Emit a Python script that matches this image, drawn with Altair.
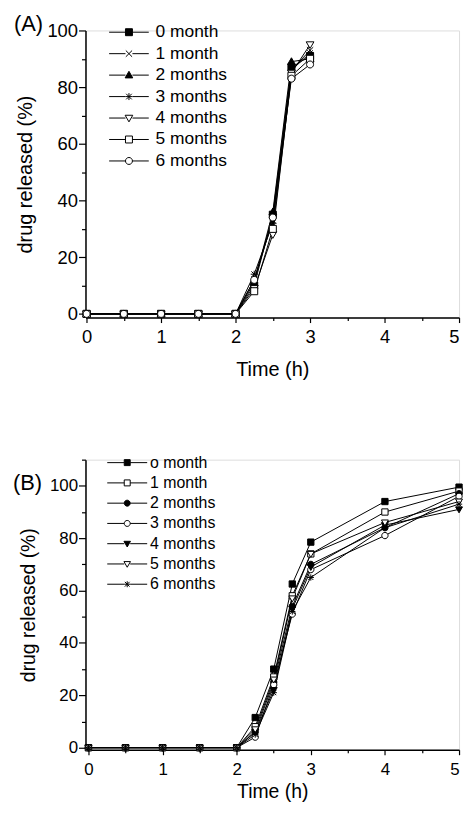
import altair as alt
import pandas as pd

FONT = "Liberation Sans"

# ---------------- Panel A data ----------------
time_a = [0, 0.5, 1, 1.5, 2, 2.25, 2.5, 2.75, 3]
series_a = ["0 month", "1 month", "2 months", "3 months", "4 months", "5 months", "6 months"]
a_m0 = [0, 0, 0, 0, 0, 10, 35, 87, 91]
a_m1 = [0, 0, 0, 0, 0, 12, 33, 86, 93]
a_m2 = [0, 0, 0, 0, 0, 11, 36, 89, 90]
a_m3 = [0, 0, 0, 0, 0, 14, 32, 86, 92]
a_m4 = [0, 0, 0, 0, 0, 9, 28, 85, 95]
a_m5 = [0, 0, 0, 0, 0, 8, 30, 84, 90]
a_m6 = [0, 0, 0, 0, 0, 12, 34, 83, 88]
values_a = [a_m0, a_m1, a_m2, a_m3, a_m4, a_m5, a_m6]

# ---------------- Panel B data ----------------
time_b = [0, 0.5, 1, 1.5, 2, 2.25, 2.5, 2.75, 3, 4, 5]
series_b = ["o month", "1 month", "2 months", "3 months", "4 months", "5 months", "6 months"]
b_m0 = [0, 0, 0, 0, 0, 11.5, 30, 62.5, 78.5, 94, 99.5]
b_m1 = [0, 0, 0, 0, 0, 8, 27, 58, 74, 90, 98]
b_m2 = [0, 0, 0, 0, 0, 6, 25, 54, 70, 84, 97]
b_m3 = [0, 0, 0, 0, 0, 4, 24, 51, 68, 81, 96]
b_m4 = [0, 0, 0, 0, 0, 6, 22, 53, 69, 85, 91]
b_m5 = [0, 0, 0, 0, 0, 7, 26, 57, 74, 86, 94]
b_m6 = [0, 0, 0, 0, 0, 5, 21, 52, 65, 84, 93]
values_b = [b_m0, b_m1, b_m2, b_m3, b_m4, b_m5, b_m6]

x_ticks = [0, 0.5, 1, 1.5, 2, 2.5, 3, 3.5, 4, 4.5, 5]

# marker shapes (unit square -1..1)
SQ = "M-1,-1L1,-1L1,1L-1,1Z"
CI = "M1,0A1,1,0,1,1,-1,0A1,1,0,1,1,1,0Z"
TU = "M0,-1.1L1.1,0.8L-1.1,0.8Z"
TD = "M0,1.1L1.1,-0.8L-1.1,-0.8Z"
XX = "M-0.9,-0.9L0.9,0.9M-0.9,0.9L0.9,-0.9"
AS = "M-1,0L1,0M0,-1L0,1M-0.8,-0.8L0.8,0.8M-0.8,0.8L0.8,-0.8"


def with_arms(path, arm):
    return f"M-{arm},0L-1,0M1,0L{arm},0" + path


def to_long(times, series, values):
    rows = []
    for s, vals in zip(series, values):
        for t, v in zip(times, vals):
            rows.append({"time": t, "value": v, "series": s})
    return pd.DataFrame(rows)


def panel(df, series, shapes, fills, tag, ydom, yvals, w, h, xdom,
          pt_size, leg_size, arm, leg_x, leg_y, leg_font, row_pad, label_off,
          tick_font, title_font, tag_x, tag_y, x_label_pad, x_title_pad):
    xax = alt.Axis(
        values=x_ticks,
        labelExpr="datum.value % 1 === 0 ? format(datum.value, 'd') : ''",
        tickSize={"condition": {"test": "datum.value % 1 === 0", "value": 5}, "value": 3},
        title="Time (h)", grid=False, labelFont=FONT, titleFont=FONT,
        labelFontSize=tick_font, titleFontSize=title_font, titleFontWeight="normal",
        labelColor="black", titleColor="black", domainColor="black", tickColor="black",
        domainWidth=1.5, tickWidth=1.2, labelPadding=x_label_pad, titlePadding=x_title_pad,
        labelOverlap=False, labelFlush=True,
    )
    yax = alt.Axis(
        values=yvals,
        labelExpr="datum.value % 20 === 0 ? datum.label : ''",
        tickSize={"condition": {"test": "datum.value % 20 === 0", "value": 7}, "value": 4},
        title="drug released (%)", grid=False, labelFont=FONT, titleFont=FONT,
        labelFontSize=tick_font, titleFontSize=title_font, titleFontWeight="normal",
        labelColor="black", titleColor="black", domainColor="black", tickColor="black",
        domainWidth=1.5, tickWidth=1.2, labelPadding=1, titlePadding=11,
        labelOverlap=False,
    )
    x = alt.X("time:Q", scale=alt.Scale(domain=xdom, nice=False, zero=False), axis=xax)
    y = alt.Y("value:Q", scale=alt.Scale(domain=ydom, nice=False, zero=False), axis=yax)

    base = alt.Chart(df)
    lines = base.mark_line(color="black", strokeWidth=1).encode(
        x=x, y=y, detail="series:N")
    points = base.mark_point(stroke="black", strokeWidth=1, opacity=1, size=pt_size).encode(
        x=x, y=y,
        shape=alt.Shape("series:N", scale=alt.Scale(domain=series, range=shapes), legend=None),
        fill=alt.Fill("series:N", scale=alt.Scale(domain=series, range=fills), legend=None),
    )
    leg = alt.Legend(
        orient="none", legendX=leg_x, legendY=leg_y, title=None, padding=0,
        labelFont=FONT, labelFontSize=leg_font, labelColor="black", labelLimit=300,
        symbolSize=leg_size, symbolStrokeWidth=1, symbolStrokeColor="black",
        symbolOpacity=1, labelOffset=label_off, rowPadding=row_pad,
    )
    legend_layer = base.transform_filter("false").mark_point(
        strokeWidth=1, opacity=1, size=leg_size).encode(
        shape=alt.Shape("series:N", scale=alt.Scale(domain=series,
                        range=[with_arms(p, arm) for p in shapes]), legend=leg),
        fill=alt.Fill("series:N", scale=alt.Scale(domain=series, range=fills), legend=leg),
        stroke=alt.Stroke("series:N", scale=alt.Scale(domain=series, range=["black"] * len(series)),
                          legend=leg),
    )
    tag_layer = alt.Chart(pd.DataFrame({"label": [tag]})).mark_text(
        align="left", baseline="middle", fontSize=22, font=FONT, color="black").encode(
        text="label:N", x=alt.value(tag_x), y=alt.value(tag_y))

    return alt.layer(lines, points, legend_layer, tag_layer).resolve_scale(
        shape="independent", fill="independent", stroke="independent"
    ).properties(width=w, height=h)


df_a = to_long(time_a, series_a, values_a)
df_b = to_long(time_b, series_b, values_b)

shapes_a = [SQ, XX, TU, AS, TD, SQ, CI]
fills_a = ["black", "white", "black", "white", "white", "white", "white"]
shapes_b = [SQ, SQ, CI, CI, TD, TD, AS]
fills_b = ["black", "white", "black", "white", "black", "white", "white"]

pa = panel(df_a, series_a, shapes_a, fills_a, "(A)", [-1.3, 100],
           list(range(0, 101, 10)), 376, 289, [-0.015, 5],
           pt_size=50, leg_size=49, arm=5.7, leg_x=35, leg_y=-7,
           leg_font=17.5, row_pad=2.6, label_off=18, tick_font=18.5, title_font=20,
           tag_x=-72, tag_y=-6, x_label_pad=5, x_title_pad=14)
pb = panel(df_b, series_b, shapes_b, fills_b, "(B)", [-0.8, 110],
           list(range(0, 111, 10)), 376, 292, [-0.04, 5],
           pt_size=40, leg_size=36, arm=6.7, leg_x=34, leg_y=-5,
           leg_font=16, row_pad=4.4, label_off=15, tick_font=17, title_font=19.5,
           tag_x=-73, tag_y=24, x_label_pad=7, x_title_pad=5)

chart = alt.vconcat(pa, pb, spacing=70).properties(
    padding={"left": 4, "top": 2, "right": 0, "bottom": 0}
).configure_view(stroke=None).configure(background="white")

chart.save("out.html", embed_options={"renderer": "svg", "actions": False})
